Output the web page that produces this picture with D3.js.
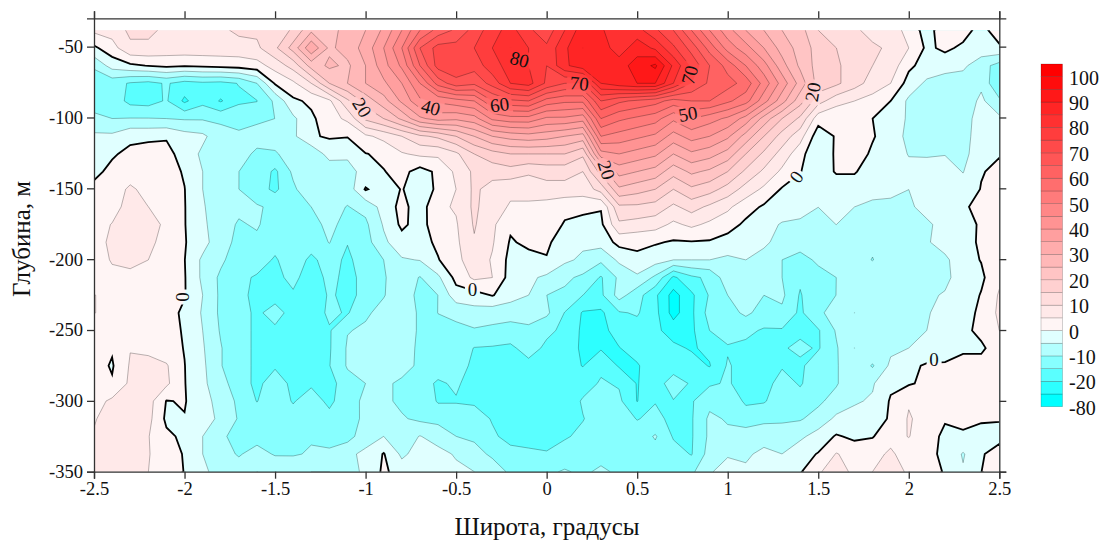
<!DOCTYPE html>
<html>
<head>
<meta charset="utf-8">
<script src="https://cdn.jsdelivr.net/npm/d3@7"></script>
<style>
  body { margin: 0; background: #fff; }
  text { font-family: "Liberation Serif", serif; fill: #111; }
</style>
</head>
<body>
<svg id="chart"></svg>
<script>
// Constants
const width = 1104;
const height = 542;

// Grid axes (latitude in degrees, depth in metres)
const lats = d3.range(51).map(i => -2.5 + i * 0.1);
const depths = d3.range(26).map(i => -38.5 - i * 12.46);

// Values, one row per depth, top row first
const values = [
  [6,7,11,11,9,8,8,9,11,11, 11,16,24,24,26,30,36,45,55,62, 66,72,78,82,76,72,80,88,86,80, 82,76,70,60,50,42,35,30,25,22, 15,13,11,8,8,3,-2,3,2,-2,3],
  [-1,3,9,9,8,8,8,8,8,9, 14,22,34,24,27,32,40,50,65,72, 72,75,80,85,80,76,84,90,88,82, 88,84,76,68,58,48,42,35,28,23, 18,15,13,11,9,5,-1,1,-1,-2,-1],
  [-9,-3,-1,0.2,1,0.5,1,1.5,2,3, 7,12,22,26,24,30,38,46,60,72, 74,72,78,82,80,75,84,88,86,88, 92,96,84,74,65,58,50,42,32,24, 18,16,12,10,8,1,-2,-3,-4,-8,-12],
  [-14,-13,-15.5,-16.5,-14.5,-17,-16,-16.5,-14.8,-10, 0.5,4,10,20,25,30,34,40,50,62, 68,66,72,80,82,74,70,70,85,88, 90,90,80,70,64,62,58,48,38,28, 18,16,12,8,5,-2,-6,-7.5,-7.5,-6,-15],
  [-12,-12,-16.5,-17,-14.5,-21,-16.5,-20.5,-16,-15.2, -9,-1,1,4,14,22,28,36,44,46, 48,50,60,64,65,58,56,56,70,66, 64,62,58,60,60,56,52,42,32,22, 12,7,5,3,0,-6,-6,-8,-8,-4,-9],
  [-9,-10,-9.8,-9.8,-10,-10.5,-10.5,-11,-11,-10.5, -10,-6,-1,3,6,16,20,26,34,37, 36,38,46,48,48,44,44,42,60,56, 54,52,46,50,47,44,38,28,20,14, 2,0.5,2,0,-3,-5.5,-6,-7,-7,-3,-4],
  [-4,-4,-1,-1,-0.5,-3,-4,-8,-9.5,-9, -8,-6,-0.5,0.5,0.3,4,6.5,10,14,16, 20,25,30,32,33,32,30,28,50,48, 46,44,38,42,40,36,28,20,13,7, -3,0.5,3,0.5,-3,-6,-6,-6.5,-6.5,-3,-3],
  [-4,-0.5,1,2,1.5,-2,-6,-10,-9,-10.5, -10.5,-8,-9,-3,-4.5,-0.2,1,4.5,6,6, 9,15,18,20,20,20,20,16,38,40, 38,36,30,34,32,28,20,14,8,2, -5,1,3,-1,-3,-5.2,-5.5,-5.2,-6,-3,-0.3],
  [-1,1,2,3,2,-0.5,-5,-8,-10,-11.5, -16,-9,-7,-8.5,-6,-4,-0.2,1.5,-2,1, 6,11,12,13,11,12,12,10,22,32, 30,28,22,26,24,20,14,9,4,0.2, -3,0.5,0.5,-3,-4,-4,-3,-3,-5.2,-0.3,1],
  [1,2,6,3,3,0.1,-5,-8,-10,-13, -16,-11,-6,-8,-8,0.5,-3,0.3,-3,1, 5,11,8,6,6,8,8,7,12,24, 22,20,15,19,17,13,8,4,-0.5,-2, -3,-3,-3,-3.5,-4,-5,-4,-3.5,-3,0.2,2],
  [2,3,7,5,4,0.2,-4.5,-8,-9,-9.5, -11,-11,-10,-8.5,-10.2,-8.5,-3,1.5,-2.5,4, 5.5,11,7,4.5,4.5,3,1.5,2,0.3,14, 14,13,9,12,9,6,2,-0.7,-2,-3, -5,-4,-5,-6,-6,-5.5,-4,-3,-0.5,1,3],
  [3,5.2,7.5,8,3.5,0.2,-4,-8,-10.5,-9.5, -12.5,-10.5,-12,-8.5,-12,-11,-4.5,1,-2,3, 4.5,10.5,6,0.8,3,3,-0.5,-2.5,-1,9, 8,7,4,6,4,2,-1,-3,-5.5,-6, -5.5,-5,-7,-8,-9.5,-7,-5.5,-4,-1.5,0.5,4],
  [3,6,8,7,2,0.3,-3,-8.5,-11,-11, -13.5,-10.3,-13,-9.8,-14.8,-12,-6,-2,-2,1, 4,9.5,5.5,-0.5,1,0.5,-1.5,-4,-3,1.5, 1,0.5,-0.5,-0.3,-0.5,-2,-3,-4,-7,-7.5, -6,-7,-8,-9,-9,-7,-5.5,-3,-1,0.4,3],
  [2,5.5,7,5,1,0.1,-6,-9,-13,-13, -15.5,-12.5,-16,-13,-16,-12.5,-10,-5.5,-4.8,-0.3, 3.5,8,4.5,-1.5,-1.5,-0.2,-4,-6,-9,-4, -1,-3,-5,-5,-5,-6,-5,-7,-10,-12, -9,-8,-8,-10.2,-7,-6.5,-5.5,-6,-2,0.2,2],
  [2,3.5,3,3,2,0.3,-6,-11,-14,-15.5, -16,-14,-17,-14,-16,-14,-10.5,-7,-10.3,-6, 1.5,6,5,-2,-4,-6,-9,-11,-15.5,-9, -6,-11,-21,-16,-14,-7,-8,-9,-10,-14, -12,-10,-7,-6.5,-7,-6,-6,-6.5,-2,-1,4],
  [5.2,3,3,3,2,0.3,-5,-11,-14,-16, -16,-15.5,-18,-14.5,-16,-14,-10.2,-8,-11,-10, -2,-2,0.3,-3,-5,-10,-11,-15,-16,-8, -13,-19,-27,-21,-14.5,-10,-10,-10,-9,-15.5, -10.5,-10,-6,-6,-9,-6,-6,-4.5,-3,0.3,5.5],
  [5.2,3,3,3,2,-1,-5.5,-11,-14,-15.5, -14,-16,-18,-14,-15.5,-10.5,-9,-8,-10.5,-10, -9,-7,-8,-8,-9,-9,-15.2,-20.5,-21,-15.5, -14.5,-18.5,-27,-21,-13,-12,-9,-12,-11,-16, -10.5,-9,-5,-6.5,-9,-5.5,-5.5,-3,-2,1,6],
  [2,3,3,3,1.5,-0.4,-5,-10.5,-14,-15.5, -15.5,-15.5,-18,-15.5,-10.2,-9.5,-8.5,-8,-10.5,-10.2, -11,-10.5,-11,-12,-10.5,-14,-16,-21,-21.5,-18, -17,-19,-22,-21,-15,-13,-14,-15.5,-15.5,-16, -15.5,-9.5,-5.5,-7.5,-10,-7,-5,-3,-1.5,1.5,5],
  [2,0.5,4.8,3.5,2,-0.2,-4.5,-9.7,-14,-15.5, -15.5,-16,-18,-15.5,-9.5,-9.5,-8,-8,-10.8,-10.1, -12,-15.2,-15.5,-16,-13,-16,-17,-21,-20.5,-20.2, -18,-18,-19,-20.5,-19,-15.5,-16,-16,-15.5,-14, -15.5,-10.5,-5,-6,-6,-5,-3,-2,-0.5,-1,3],
  [2,-0.5,5.5,7,5.5,0.1,-4,-9.7,-14,-15.5, -15.5,-16,-17,-15.2,-9.5,-9.8,-8.5,-8,-11,-11.5, -13,-16,-17,-17,-16.5,-17,-18,-20.2,-16,-20.5, -20.5,-17,-17,-18,-20.3,-14.5,-17,-17,-15.5,-16, -12,-10.5,-6,-10.5,-4,-1,0.5,0.5,1,2,3],
  [2,0.5,6,7,6,0.2,-4,-8,-13,-16, -13,-16,-16,-17,-12,-10,-9,-11,-12,-16, -14,-18,-18,-18,-18,-18,-18,-17,-14.5,-15.5, -20.3,-17,-13,-15.5,-15.7,-14.5,-17,-17,-13,-15.5, -12,-10.5,-6,-5.5,-1,-0.5,1,1,1,2,3],
  [3,6,6.5,7,-0.2,0.3,-3,-7,-11,-15.2, -11.5,-15.5,-12,-16.5,-11,-9.5,-9,-11,-11,-15.5, -15.5,-16,-18,-18,-18,-18,-18,-14.5,-13,-14, -20.2,-15.2,-15.2,-15.5,-11.5,-11,-16,-15.5,-12,-13, -11,-8,-5.5,-4.5,0.5,4.5,2,1,1,2,2],
  [4.8,6,6,6.5,-1,-0.2,-3,-6,-10.5,-12, -12,-12.5,-10.5,-13,-12,-9,-9,-9.5,-11,-11.5, -11.5,-12,-15.5,-18,-18,-18,-17,-15.2,-13,-13, -15.2,-14,-16,-15.5,-9,-10.5,-12,-11,-11,-10.5, -8,-4,-3.5,-2,0.5,5.5,3,0.4,0.8,0.5,0.3],
  [5.2,5.5,5.5,5.2,1,-1,-5,-9,-12,-12, -13,-12,-10.5,-12,-12,-7,-5,-7.5,-4.8,-7, -10,-11,-14,-17,-16,-16,-15.5,-14,-13,-13, -13,-9.5,-15.5,-15.5,-9,-9,-8,-7.5,-7,-6, -3,0.5,-1,-0.3,3,5.2,2,-1,-0.5,-1.5,-1.5],
  [5.5,5.5,5.5,5.2,3,-0.5,-5,-8,-10.5,-8, -10.5,-10.5,-9.5,-9,-6,-4,0.3,-6,-3,-3.5, -5.5,-8,-11,-13,-14.5,-14.8,-13,-13,-12,-12, -12,-12,-13,-15.3,-8,-5.5,-6,-3.5,-5,-2, 0.3,5.3,3,3,6,2,1,-0.8,-5.5,-0.5,2],
  [5.5,6,5.2,5,3,-0.2,-4.5,-6,-7.5,-5, -5.5,-6,-5,-5,-6,-4.5,1,-2.5,-2.5,-3, -4,-5,-7,-11,-11,-11,-9.5,-11,-9,-11, -11,-11,-11,-11,-5.5,-3,-4,-1,-3,-0.5, 4.5,7,4,5,8,4,1,-0.2,-4.5,-0.1,4]
];

// Contour levels and the legend labels
const levels = d3.range(-25, 101, 5);
const legendLevels = [-80].concat(levels);
const legendLabels = [100, 90, 80, 70, 60, 50, 40, 30, 20, 10, 0, -10, -20, -80];

// Axis ticks
const xTicks = [-2.5, -2, -1.5, -1, -0.5, 0, 0.5, 1, 1.5, 2, 2.5];
const yTicks = [-50, -100, -150, -200, -250, -300, -350];

// Labels sitting on the contour lines
const labelTexts = ["0", "0", "0", "0", "20", "40", "60", "80", "70", "70", "50", "20", "20"];
const labelLats = [-2.01, -0.41, 1.38, 2.14, -1.02, -0.64, -0.26, -0.15, 0.18, 0.79, 0.78, 1.47, 0.33];
const labelDepths = [-226.7, -221.7, -142, -271, -93, -93, -91, -59, -76, -70, -97.5, -82, -137];
const labelAngles = [90, 0, -55, 0, 58, 15, -8, 15, 5, -75, -10, -80, 72];

const svg = d3.select("#chart")
  .attr("width", width)
  .attr("height", height)
  .attr("viewBox", [0, 0, width, height]);

const x = d3.scaleLinear().domain([-2.5, 2.5]).range([94, 999.3]);
const y = d3.scaleLinear().domain([-30, -350]).range([18.3, 471.7]);

/**
 * Colour of the band that starts at a contour level
 * @param {number} level - Lower bound of the band
 * @return {string} CSS colour
 */
function bandColor(level) {
  if (level >= 0) {
    const g = Math.round(245 * (1 - level / 100));
    return d3.rgb(255, g, g).formatHex();
  }
  const r = level <= -80 ? 0 : d3.scaleLinear().domain([-25, -5]).range([45, 224]).clamp(true)(level);
  return d3.rgb(Math.round(r), 255, 255).formatHex();
}

/**
 * Turns grid-space contour rings into pixel-space paths
 * @param {Object} contour - One MultiPolygon from d3.contours
 * @return {string} SVG path
 */
function contourPath(contour) {
  const latStep = lats[1] - lats[0];
  const depthStep = depths[1] - depths[0];
  const project = ([cx, cy]) => [
    x(lats[0] + (cx - 0.5) * latStep),
    y(depths[0] + (cy - 0.5) * depthStep)
  ];
  const geometry = {
    type: "MultiPolygon",
    coordinates: contour.coordinates.map(poly => poly.map(ring => ring.map(project)))
  };
  return d3.geoPath()(geometry);
}

/**
 * Draws the filled bands and the contour lines
 */
function renderContours() {
  // tiny nudge so no grid value sits exactly on a level
  const contours = d3.contours()
    .size([lats.length, depths.length])
    .thresholds(levels)(values.flat().map(v => v + 0.01));

  const defs = svg.append("defs");
  defs.append("clipPath").attr("id", "plot-clip")
    .append("rect")
    .attr("x", x(lats[0]))
    .attr("y", y(depths[0]))
    .attr("width", x(2.5) - x(-2.5))
    .attr("height", y(depths[25]) - y(depths[0]));

  // Contour lines break under their labels
  const mask = defs.append("mask").attr("id", "label-mask")
    .attr("maskUnits", "userSpaceOnUse")
    .attr("x", 0).attr("y", 0).attr("width", width).attr("height", height);
  mask.append("rect").attr("width", width).attr("height", height).attr("fill", "#fff");
  labelTexts.forEach((t, i) => {
    const w = t.length * 10 + 5;
    mask.append("rect")
      .attr("x", -w / 2).attr("y", -9).attr("width", w).attr("height", 18)
      .attr("fill", "#000")
      .attr("transform", `translate(${x(labelLats[i])},${y(labelDepths[i])}) rotate(${labelAngles[i]})`);
  });

  const plot = svg.append("g").attr("clip-path", "url(#plot-clip)");

  plot.append("rect")
    .attr("x", x(-2.5)).attr("y", y(depths[0]))
    .attr("width", x(2.5) - x(-2.5))
    .attr("height", y(depths[25]) - y(depths[0]))
    .attr("fill", bandColor(-80));

  plot.append("g").selectAll("path")
    .data(contours)
    .join("path")
      .attr("d", contourPath)
      .attr("fill", d => bandColor(d.value));

  const lines = plot.append("g")
    .attr("mask", "url(#label-mask)")
    .attr("fill", "none");

  lines.selectAll("path.level")
    .data(contours.filter(d => d.value !== 0))
    .join("path")
      .attr("class", "level")
      .attr("d", contourPath)
      .attr("stroke", "#000")
      .attr("stroke-opacity", 0.4)
      .attr("stroke-width", 0.7);

  lines.selectAll("path.zero")
    .data(contours.filter(d => d.value === 0))
    .join("path")
      .attr("class", "zero")
      .attr("d", contourPath)
      .attr("stroke", "#000")
      .attr("stroke-width", 1.8);
}

/**
 * Draws the rotated labels of the contour lines
 */
function renderContourLabels() {
  svg.append("g").selectAll("text")
    .data(labelTexts)
    .join("text")
      .attr("text-anchor", "middle")
      .attr("dominant-baseline", "central")
      .attr("font-size", 19)
      .attr("transform", (d, i) => `translate(${x(labelLats[i])},${y(labelDepths[i])}) rotate(${labelAngles[i]})`)
      .text(d => d);
}

/**
 * Draws the four framing axes and the titles
 */
function renderAxes() {
  const fmt = d => String(d);
  const axes = [
    d3.axisBottom(x).tickValues(xTicks).tickFormat(fmt).tickSize(7).tickPadding(3),
    d3.axisTop(x).tickValues(xTicks).tickFormat("").tickSize(7),
    d3.axisLeft(y).tickValues(yTicks).tickFormat(fmt).tickSize(7).tickPadding(4),
    d3.axisRight(y).tickValues(yTicks).tickFormat("").tickSize(7)
  ];
  const places = [[0, 471.7], [0, 18.3], [94, 0], [999.3, 0]];
  axes.forEach((axis, i) => {
    const g = svg.append("g")
      .attr("transform", `translate(${places[i]})`)
      .call(axis);
    g.selectAll("text").attr("font-size", 18.5).attr("font-family", "Liberation Serif").attr("fill", "#111");
    g.selectAll("path, line").attr("stroke", "#333").attr("stroke-width", 1.3);
  });

  svg.append("text")
    .attr("x", 547).attr("y", 535)
    .attr("text-anchor", "middle")
    .attr("font-size", 25)
    .text("Широта, градусы");

  svg.append("text")
    .attr("transform", "translate(30,239) rotate(-90)")
    .attr("text-anchor", "middle")
    .attr("font-size", 25)
    .text("Глубина, м");
}

/**
 * Draws the colour legend on the right
 */
function renderLegend() {
  const ly = d3.scaleLinear()
    .domain([0, legendLevels.length])
    .range([406.7, 64]);

  const legend = svg.append("g");

  legend.selectAll("rect")
    .data(legendLevels)
    .join("rect")
      .attr("x", 1041)
      .attr("width", 21.5)
      .attr("y", (d, i) => ly(i + 1))
      .attr("height", (d, i) => ly(i) - ly(i + 1))
      .attr("fill", d => bandColor(d))
      .attr("stroke", "#000")
      .attr("stroke-opacity", 0.3)
      .attr("stroke-width", 0.6);

  legend.selectAll("text")
    .data(legendLabels)
    .join("text")
      .attr("x", 1069)
      .attr("y", d => ly(legendLevels.indexOf(d)) + 1)
      .attr("dominant-baseline", "central")
      .attr("font-size", 20)
      .text(d => d);
}

renderContours();
renderContourLabels();
renderAxes();
renderLegend();
</script>
</body>
</html>
